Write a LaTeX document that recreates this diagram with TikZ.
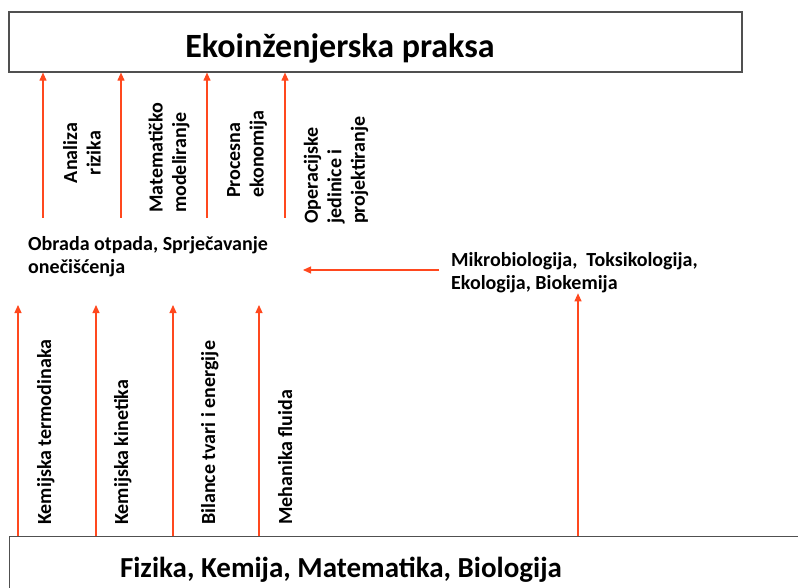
\documentclass[tikz,border=0pt]{standalone}
\usepackage{fontspec}
\setmainfont{Carlito}
\usetikzlibrary{arrows.meta}

\definecolor{crvena}{RGB}{255,72,30}
\definecolor{rub}{RGB}{80,80,80}

\tikzset{
  strelica/.style={draw=crvena, line width=1.1pt, -{Triangle[length=8pt,width=7pt]}},
  okvir/.style={draw=rub, line width=1.2pt, inner sep=0pt},
  natpis/.style={font=\fontsize{20}{23.5}\selectfont\bfseries, inner sep=0pt},
  uspravno/.style={natpis, rotate=90},
}

\begin{document}
\begin{tikzpicture}[x=1pt,y=-1pt]
\useasboundingbox (0,0) rectangle (798,588);
\clip (0,0) rectangle (798,588);

% gornji okvir
\node[okvir, minimum width=733pt, minimum height=60pt] (praksa) at (375.5,42) {};
\node[font=\fontsize{34}{40}\selectfont\bfseries, anchor=base] (naslov) at (340,58) {Ekoinženjerska praksa};

\foreach \x/\n in {43/a,121/b,207/c,285/d} {
\coordinate (g\n) at (\x,218);
\draw[strelica] (g\n) -- (g\n |- praksa.south);
}

\node[uspravno, align=center] (analiza) at (82,153) {Analiza\\rizika};
\node[uspravno, align=left, anchor=west] (modeliranje) at (169,213) {Matematičko\\modeliranje};
\node[uspravno, align=left, anchor=west] (ekonomija) at (247,198) {Procesna\\ekonomija};
\node[uspravno, align=left, anchor=west] (operacije) at (336,224) {Operacijske\\jedinice i\\projektiranje};

% srednji dio
\node[natpis, align=left, anchor=north west] (obrada) at (28,236) {Obrada otpada, Sprječavanje\\onečišćenja};
\node[natpis, align=left, anchor=north west] (mikro) at (451,252) {Mikrobiologija,~ Toksikologija,\\Ekologija, Biokemija};

\coordinate (h) at (303,270);
\draw[strelica] ([xshift=-12pt]mikro.west |- h) -- (h);

% donji okvir
\node[okvir, minimum width=801pt, minimum height=70pt, anchor=north west] (osnove) at (9,536) {};
\node[font=\fontsize{29}{35}\selectfont\bfseries, anchor=base] (fizika) at (341,577) {Fizika, Kemija, Matematika, Biologija};

\foreach \x/\n in {18/a,96/b,173/c,259/d,578/e} {
\coordinate (d\n) at (\x,305);
}
\foreach \n in {a,b,c,d} {
\draw[strelica] (d\n |- osnove.north) -- (d\n);
}
\draw[strelica] (de |- osnove.north) -- (de |- mikro.south);

\node[uspravno, anchor=base west] (termo) at (51,525) {Kemijska termodinaka};
\node[uspravno, anchor=base west] (kinetika) at (128,525) {Kemijska kinetika};
\node[uspravno, anchor=base west] (bilance) at (215,525) {Bilance tvari i energije};
\node[uspravno, anchor=base west] (mehanika) at (292,525) {Mehanika fluida};
\end{tikzpicture}
\end{document}
